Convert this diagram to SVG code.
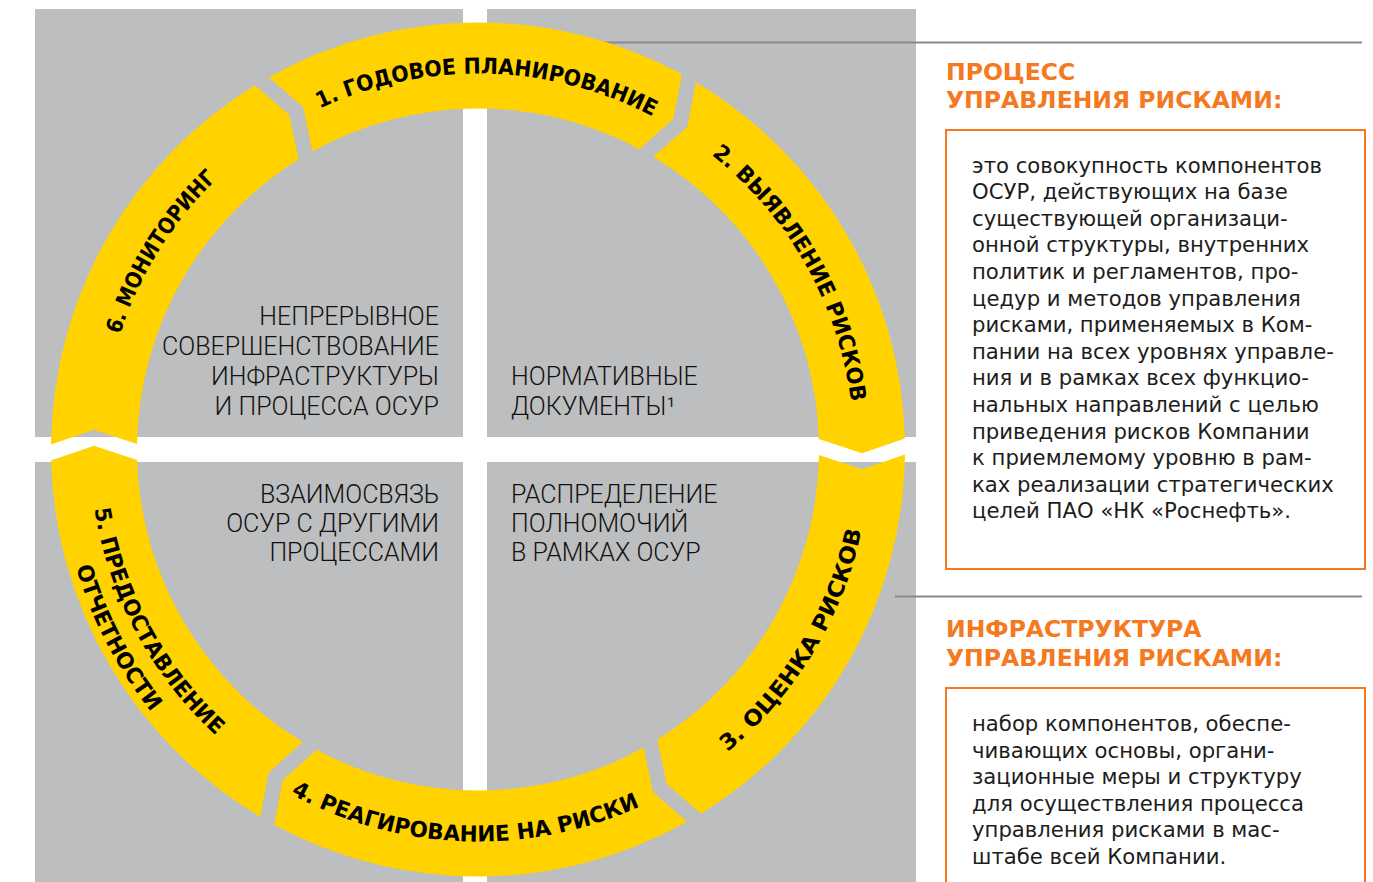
<svg xmlns="http://www.w3.org/2000/svg" width="1373" height="882" viewBox="0 0 1373 882">
<style>
.q{fill:#bcbec0}
.seg{fill:#ffd200}
.lbl{font-family:"DejaVu Sans","Liberation Sans",sans-serif;font-weight:bold;font-size:22px;fill:#000}
.qt{font-family:Roboto,"Liberation Sans",sans-serif;font-weight:300;font-size:25px;fill:#111}
.hd{font-family:"DejaVu Sans","Liberation Sans",sans-serif;font-weight:bold;font-size:23.5px;fill:#f47920}
.bt{font-family:"DejaVu Sans","Liberation Sans",sans-serif;font-size:21.2px;fill:#1d1d1b}
.box{fill:none;stroke:#f47920;stroke-width:2}
.ln{stroke:#8a8a8a;stroke-width:2}
</style>
<defs>
<path id="seg" class="seg" d="M-206.53,-373.73 A427,427 0 0 1 206.53,-373.73 L197.63,-329.30 L163.52,-299.23 A341,341 0 0 0 -163.52,-299.23 L-172.51,-343.80 Z"/>
<path id="p1" d="M319.7,108.5 A376,376 0 0 1 653.9,117.2"/>
<path id="p2" d="M711.5,154.8 A376,376 0 0 1 851.2,403.7"/>
<path id="p3" d="M727.4,752.0 A392,392 0 0 0 861.8,529.0"/>
<path id="p4" d="M290.9,794.0 A392,392 0 0 0 641.8,805.6"/>
<path id="p5a" d="M94.5,508.8 A388,388 0 0 0 217.4,736.9"/>
<path id="p5b" d="M76.0,567.2 A419,419 0 0 0 152.4,713.2"/>
<path id="p6" d="M120.0,334.6 A376,376 0 0 1 217.8,178.1"/>
</defs>

<g id="quadrants">
<rect class="q" x="35" y="9" width="428" height="428"/>
<rect class="q" x="487" y="9" width="429" height="428"/>
<rect class="q" x="35" y="462" width="428" height="420"/>
<rect class="q" x="487" y="462" width="429" height="420"/>
</g>

<g id="connectors">
<line class="ln" x1="603" y1="42.5" x2="1362" y2="42.5"/>
<line class="ln" x1="895" y1="596.5" x2="1362" y2="596.5"/>
</g>

<g id="node1">
<use href="#seg" transform="translate(478 449.5) rotate(-0.4)"/>
<text class="lbl"><textPath href="#p1" textLength="345" lengthAdjust="spacingAndGlyphs">1. ГОДОВОЕ ПЛАНИРОВАНИЕ</textPath></text>
</g>
<g id="node2">
<use href="#seg" transform="translate(478 449.5) rotate(59.6)"/>
<text class="lbl"><textPath href="#p2" textLength="291" lengthAdjust="spacingAndGlyphs">2. ВЫЯВЛЕНИЕ РИСКОВ</textPath></text>
</g>
<g id="node3">
<use href="#seg" transform="translate(478 449.5) rotate(119.6)"/>
<text class="lbl"><textPath href="#p3" textLength="264" lengthAdjust="spacingAndGlyphs">3. ОЦЕНКА РИСКОВ</textPath></text>
</g>
<g id="node4">
<use href="#seg" transform="translate(478 449.5) rotate(179.6)"/>
<text class="lbl"><textPath href="#p4" textLength="362" lengthAdjust="spacingAndGlyphs">4. РЕАГИРОВАНИЕ НА РИСКИ</textPath></text>
</g>
<g id="node5">
<use href="#seg" transform="translate(478 449.5) rotate(239.6)"/>
<text class="lbl"><textPath href="#p5a" textLength="262" lengthAdjust="spacingAndGlyphs">5. ПРЕДОСТАВЛЕНИЕ</textPath></text>
<text class="lbl"><textPath href="#p5b" textLength="164" lengthAdjust="spacingAndGlyphs">ОТЧЕТНОСТИ</textPath></text>
</g>
<g id="node6">
<use href="#seg" transform="translate(478 449.5) rotate(299.6)"/>
<text class="lbl"><textPath href="#p6" textLength="185" lengthAdjust="spacingAndGlyphs">6. МОНИТОРИНГ</textPath></text>
</g>

<g id="quadrant-texts">
<text class="qt" text-anchor="end"><tspan x="439" y="325">НЕПРЕРЫВНОЕ</tspan><tspan x="439" y="355">СОВЕРШЕНСТВОВАНИЕ</tspan><tspan x="439" y="385">ИНФРАСТРУКТУРЫ</tspan><tspan x="439" y="415">И ПРОЦЕССА ОСУР</tspan></text>
<text class="qt"><tspan x="511" y="385">НОРМАТИВНЫЕ</tspan><tspan x="511" y="415">ДОКУМЕНТЫ¹</tspan></text>
<text class="qt" text-anchor="end"><tspan x="439" y="503">ВЗАИМОСВЯЗЬ</tspan><tspan x="439" y="532">ОСУР С ДРУГИМИ</tspan><tspan x="439" y="561">ПРОЦЕССАМИ</tspan></text>
<text class="qt"><tspan x="511" y="503">РАСПРЕДЕЛЕНИЕ</tspan><tspan x="511" y="532">ПОЛНОМОЧИЙ</tspan><tspan x="511" y="561">В РАМКАХ ОСУР</tspan></text>
</g>

<g id="process-definition">
<text class="hd"><tspan x="946" y="80">ПРОЦЕСС</tspan><tspan x="946" y="108">УПРАВЛЕНИЯ РИСКАМИ:</tspan></text>
<rect class="box" x="946" y="130" width="419" height="439"/>
<text class="bt">
<tspan x="972" y="172.5">это совокупность компонентов</tspan>
<tspan x="972" dy="26.6">ОСУР, действующих на базе</tspan>
<tspan x="972" dy="26.6">существующей организаци-</tspan>
<tspan x="972" dy="26.6">онной структуры, внутренних</tspan>
<tspan x="972" dy="26.6">политик и регламентов, про-</tspan>
<tspan x="972" dy="26.6">цедур и методов управления</tspan>
<tspan x="972" dy="26.6">рисками, применяемых в Ком-</tspan>
<tspan x="972" dy="26.6">пании на всех уровнях управле-</tspan>
<tspan x="972" dy="26.6">ния и в рамках всех функцио-</tspan>
<tspan x="972" dy="26.6">нальных направлений с целью</tspan>
<tspan x="972" dy="26.6">приведения рисков Компании</tspan>
<tspan x="972" dy="26.6">к приемлемому уровню в рам-</tspan>
<tspan x="972" dy="26.6">ках реализации стратегических</tspan>
<tspan x="972" dy="26.6">целей ПАО «НК «Роснефть».</tspan>
</text>
</g>

<g id="infrastructure-definition">
<text class="hd"><tspan x="946" y="637">ИНФРАСТРУКТУРА</tspan><tspan x="946" y="666">УПРАВЛЕНИЯ РИСКАМИ:</tspan></text>
<rect class="box" x="946" y="688" width="419" height="210"/>
<text class="bt">
<tspan x="972" y="731">набор компонентов, обеспе-</tspan>
<tspan x="972" dy="26.6">чивающих основы, органи-</tspan>
<tspan x="972" dy="26.6">зационные меры и структуру</tspan>
<tspan x="972" dy="26.6">для осуществления процесса</tspan>
<tspan x="972" dy="26.6">управления рисками в мас-</tspan>
<tspan x="972" dy="26.6">штабе всей Компании.</tspan>
</text>
</g>
</svg>
